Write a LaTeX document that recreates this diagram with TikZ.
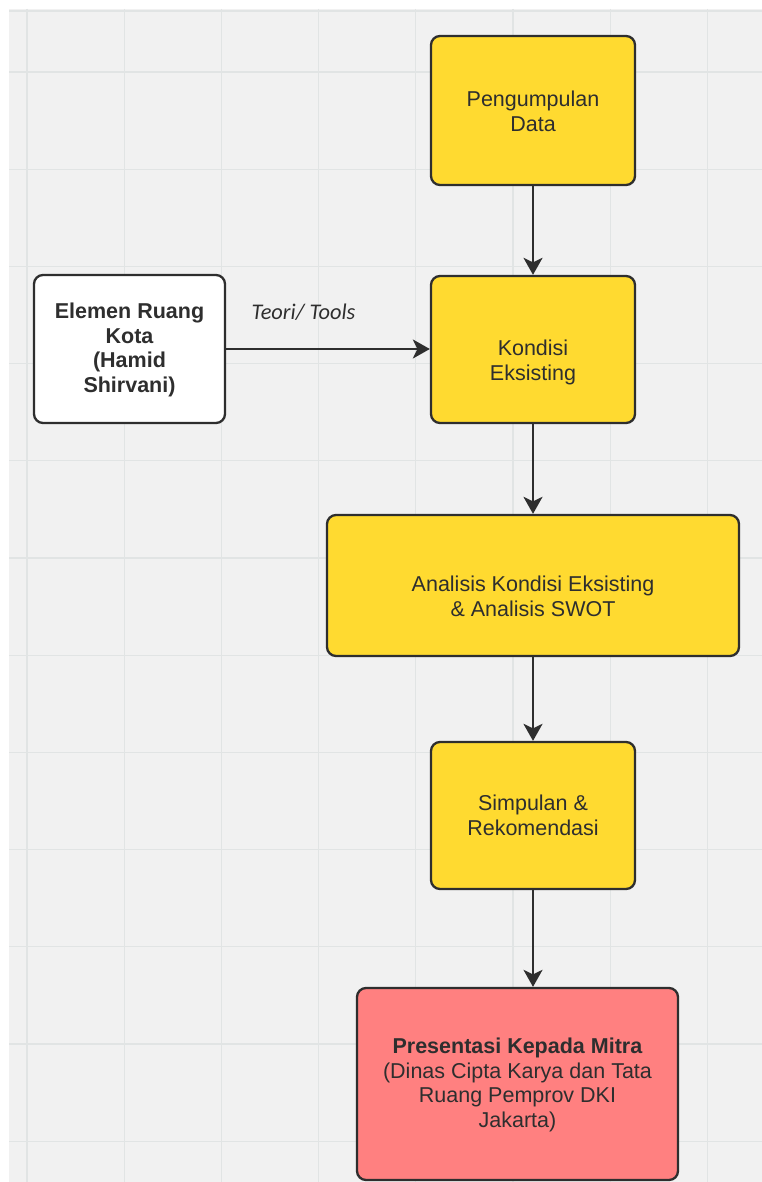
\documentclass[tikz,border=0pt]{standalone}
\usepackage{fontspec}
\setmainfont{Liberation Sans}
\newfontfamily\calib{Carlito}
\usetikzlibrary{arrows.meta}
\definecolor{bg}{HTML}{F1F1F1}
\definecolor{gridc}{HTML}{E1E4E4}
\definecolor{yel}{HTML}{FFDA30}
\definecolor{pnk}{HTML}{FF8080}
\definecolor{ink}{HTML}{2E2E2E}
\begin{document}
\begin{tikzpicture}[x=1pt,y=-1pt,
  box/.style={draw=ink, line width=2.3pt, rounded corners=9pt, inner sep=0pt},
  ybox/.style={box, fill=yel},
  txt/.style={text=ink, align=center, font=\fontsize{21.5}{24.5}\selectfont, inner sep=0pt},
  conn/.style={draw=ink, line width=2.3pt, -{Stealth[length=17pt,width=19pt,inset=4.5pt]}}]
\useasboundingbox (0,0) rectangle (762,1182);
\fill[white] (0,0) rectangle (762,1182);
\fill[bg] (9,9) rectangle (762,1182);
\draw[gridc, line width=1.2pt] (9,11) -- (762,11);
\foreach \k in {0,...,7} \draw[gridc, line width=1.2pt] ({27+97.2*\k},9) -- ({27+97.2*\k},1182);
\foreach \k in {0,...,11} \draw[gridc, line width=1.2pt] (9,{72+97.2*\k}) -- (762,{72+97.2*\k});

% boxes
\node[ybox, minimum width=204pt, minimum height=149pt] (p) at (533,110.5) {};
\node[txt] at ([yshift=-1pt]p.center) {Pengumpulan\\Data};

\node[ybox, minimum width=204pt, minimum height=147pt] (k) at (533,349.5) {};
\node[txt] at ([yshift=-13pt]k.center) {Kondisi\\Eksisting};

\node[box, fill=white, minimum width=191pt, minimum height=148pt] (e) at (129.5,349) {};
\node[txt, font=\fontsize{21.5}{24.5}\selectfont\bfseries] at ([yshift=-1pt]e.center) {Elemen Ruang\\Kota\\(Hamid\\Shirvani)};

\node[ybox, minimum width=412pt, minimum height=141pt] (a) at (533,585.5) {};
\node[txt] at ([yshift=-11pt]a.center) {Analisis Kondisi Eksisting\\\& Analisis SWOT};

\node[ybox, minimum width=204pt, minimum height=147pt] (s) at (533,815.5) {};
\node[txt] at (s.center) {Simpulan \&\\Rekomendasi};

\node[box, fill=pnk, minimum width=321pt, minimum height=192pt] (m) at (517.5,1084) {};
\node[txt] at ([yshift=-1pt]m.center) {\textbf{Presentasi Kepada Mitra}\\(Dinas Cipta Karya dan Tata\\Ruang Pemprov DKI\\Jakarta)};

% connectors
\draw[conn] (p.south) -- (k.north);
\draw[conn] (k.south) -- (a.north);
\draw[conn] (a.south) -- (s.north);
\draw[conn] (s.south) -- (s.south |- m.north);
\draw[conn] (e.east) -- node[pos=0.38, yshift=37pt, text=ink, inner sep=0pt, font=\calib\itshape\fontsize{22.4}{26}\selectfont] (lbl) {Teori/ Tools} (e.east -| k.west);
\end{tikzpicture}
\end{document}
